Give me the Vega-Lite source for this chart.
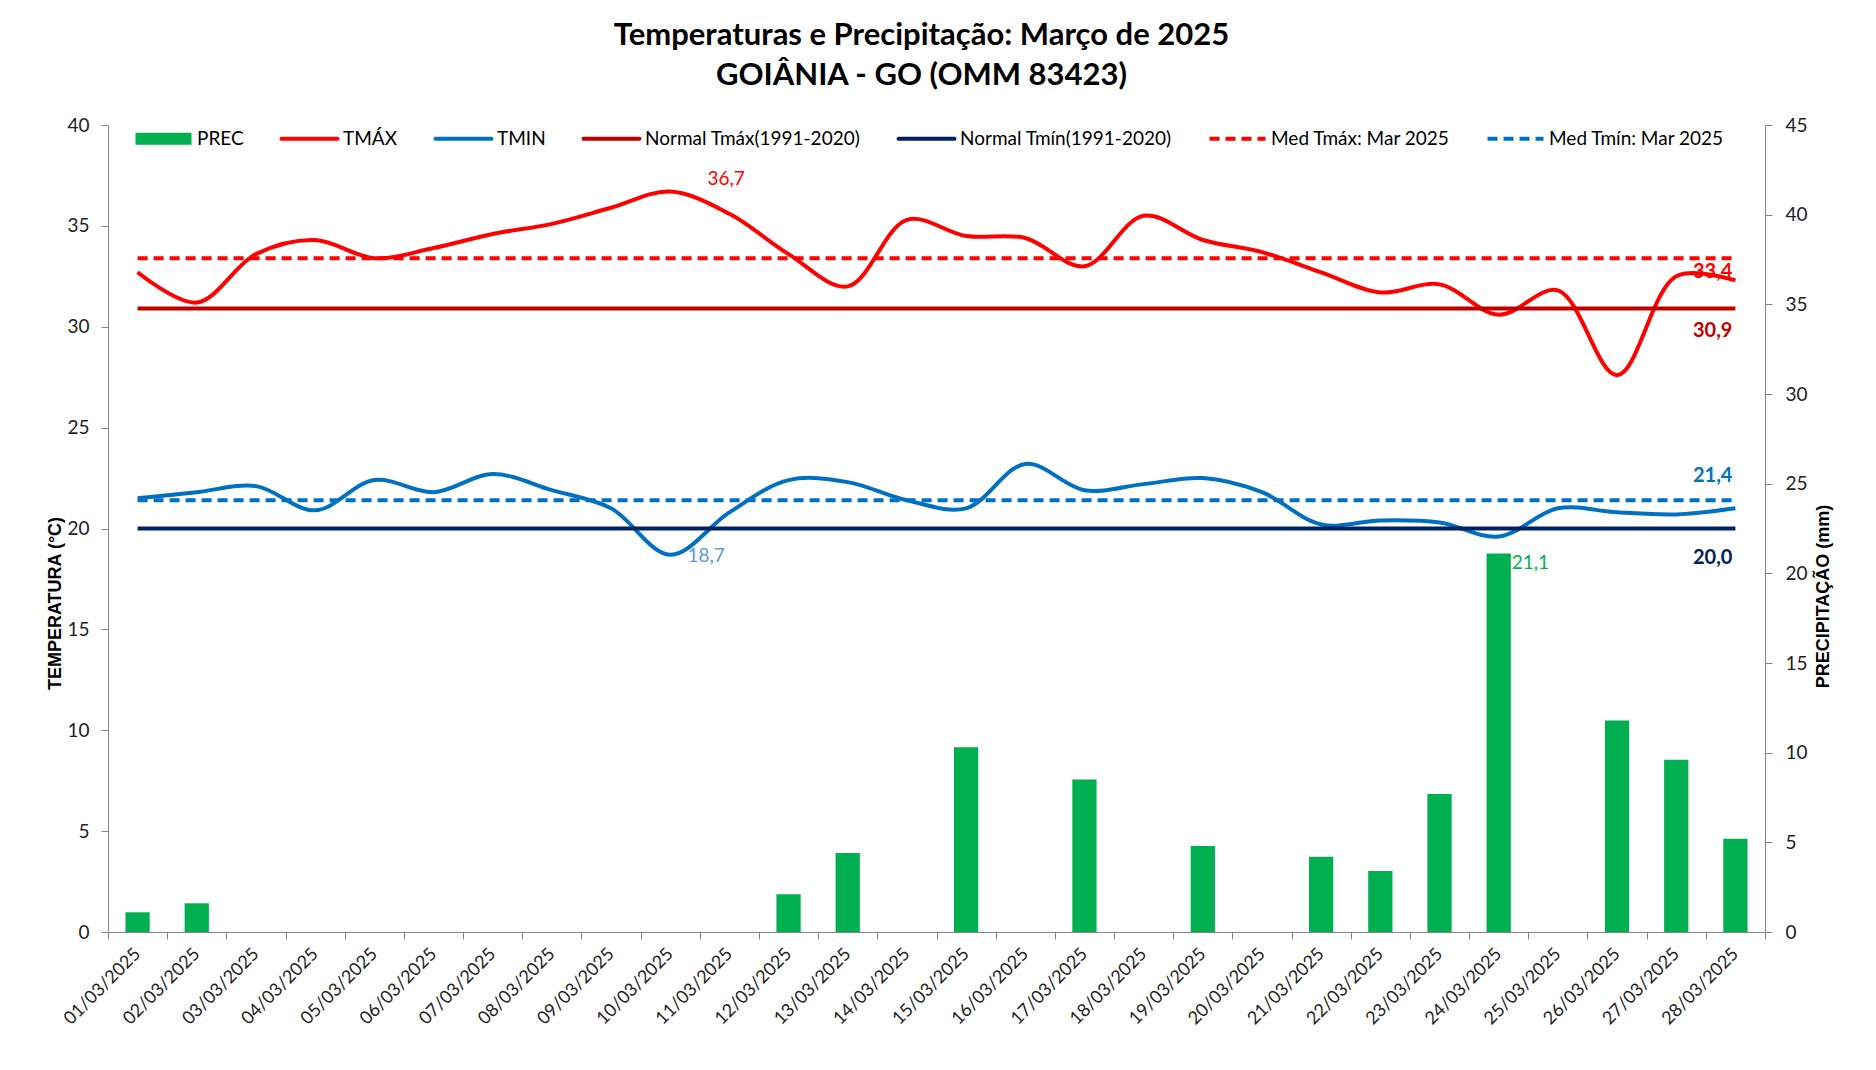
{
  "$schema": "https://vega.github.io/schema/vega-lite/v6.json",
  "width": 1657,
  "height": 807,
  "autosize": {"type": "none"},
  "padding": {"left": 108, "top": 125, "right": 111, "bottom": 138},
  "background": "white",
  "title": {
    "text": ["Temperaturas e Precipitação: Março de 2025", "GOIÂNIA - GO (OMM 83423)"],
    "font": "Lato",
    "fontSize": 31,
    "fontWeight": "bold",
    "color": "black",
    "anchor": "middle",
    "dx": -15,
    "offset": 24,
    "lineHeight": 40
  },
  "config": {
    "view": {"stroke": null},
    "locale": {"number": {"decimal": ",", "thousands": ".", "grouping": [3], "currency": ["R$ ", ""]}},
    "axis": {
      "grid": false,
      "domainColor": "#868686",
      "tickColor": "#868686",
      "tickSize": 7,
      "labelFont": "Lato",
      "labelFontSize": 19,
      "labelColor": "#222222",
      "titleFont": "Liberation Sans",
      "titleFontSize": 18,
      "titleFontWeight": "bold",
      "titleColor": "black"
    }
  },
  "datasets": {
    "diario": [
      {"data": "01/03/2025", "prec": 1.1},
      {"data": "02/03/2025", "prec": 1.6},
      {"data": "03/03/2025", "prec": 0},
      {"data": "04/03/2025", "prec": 0},
      {"data": "05/03/2025", "prec": 0},
      {"data": "06/03/2025", "prec": 0},
      {"data": "07/03/2025", "prec": 0},
      {"data": "08/03/2025", "prec": 0},
      {"data": "09/03/2025", "prec": 0},
      {"data": "10/03/2025", "prec": 0},
      {"data": "11/03/2025", "prec": 0},
      {"data": "12/03/2025", "prec": 2.1},
      {"data": "13/03/2025", "prec": 4.4},
      {"data": "14/03/2025", "prec": 0},
      {"data": "15/03/2025", "prec": 10.3},
      {"data": "16/03/2025", "prec": 0},
      {"data": "17/03/2025", "prec": 8.5},
      {"data": "18/03/2025", "prec": 0},
      {"data": "19/03/2025", "prec": 4.8},
      {"data": "20/03/2025", "prec": 0},
      {"data": "21/03/2025", "prec": 4.2},
      {"data": "22/03/2025", "prec": 3.4},
      {"data": "23/03/2025", "prec": 7.7},
      {"data": "24/03/2025", "prec": 21.1},
      {"data": "25/03/2025", "prec": 0},
      {"data": "26/03/2025", "prec": 11.8},
      {"data": "27/03/2025", "prec": 9.6},
      {"data": "28/03/2025", "prec": 5.2}
    ],
    "series": [
      {"data": "01/03/2025", "serie": "TMÁX", "valor": 32.7},
      {"data": "02/03/2025", "serie": "TMÁX", "valor": 31.2},
      {"data": "03/03/2025", "serie": "TMÁX", "valor": 33.6},
      {"data": "04/03/2025", "serie": "TMÁX", "valor": 34.3},
      {"data": "05/03/2025", "serie": "TMÁX", "valor": 33.4},
      {"data": "06/03/2025", "serie": "TMÁX", "valor": 33.9},
      {"data": "07/03/2025", "serie": "TMÁX", "valor": 34.6},
      {"data": "08/03/2025", "serie": "TMÁX", "valor": 35.1},
      {"data": "09/03/2025", "serie": "TMÁX", "valor": 35.9},
      {"data": "10/03/2025", "serie": "TMÁX", "valor": 36.7},
      {"data": "11/03/2025", "serie": "TMÁX", "valor": 35.6},
      {"data": "12/03/2025", "serie": "TMÁX", "valor": 33.6},
      {"data": "13/03/2025", "serie": "TMÁX", "valor": 32.0},
      {"data": "14/03/2025", "serie": "TMÁX", "valor": 35.3},
      {"data": "15/03/2025", "serie": "TMÁX", "valor": 34.5},
      {"data": "16/03/2025", "serie": "TMÁX", "valor": 34.4},
      {"data": "17/03/2025", "serie": "TMÁX", "valor": 33.0},
      {"data": "18/03/2025", "serie": "TMÁX", "valor": 35.5},
      {"data": "19/03/2025", "serie": "TMÁX", "valor": 34.3},
      {"data": "20/03/2025", "serie": "TMÁX", "valor": 33.7},
      {"data": "21/03/2025", "serie": "TMÁX", "valor": 32.7},
      {"data": "22/03/2025", "serie": "TMÁX", "valor": 31.7},
      {"data": "23/03/2025", "serie": "TMÁX", "valor": 32.1},
      {"data": "24/03/2025", "serie": "TMÁX", "valor": 30.6},
      {"data": "25/03/2025", "serie": "TMÁX", "valor": 31.8},
      {"data": "26/03/2025", "serie": "TMÁX", "valor": 27.6},
      {"data": "27/03/2025", "serie": "TMÁX", "valor": 32.5},
      {"data": "28/03/2025", "serie": "TMÁX", "valor": 32.3},
      {"data": "01/03/2025", "serie": "TMIN", "valor": 21.5},
      {"data": "02/03/2025", "serie": "TMIN", "valor": 21.8},
      {"data": "03/03/2025", "serie": "TMIN", "valor": 22.1},
      {"data": "04/03/2025", "serie": "TMIN", "valor": 20.9},
      {"data": "05/03/2025", "serie": "TMIN", "valor": 22.4},
      {"data": "06/03/2025", "serie": "TMIN", "valor": 21.8},
      {"data": "07/03/2025", "serie": "TMIN", "valor": 22.7},
      {"data": "08/03/2025", "serie": "TMIN", "valor": 21.9},
      {"data": "09/03/2025", "serie": "TMIN", "valor": 21.0},
      {"data": "10/03/2025", "serie": "TMIN", "valor": 18.7},
      {"data": "11/03/2025", "serie": "TMIN", "valor": 20.8},
      {"data": "12/03/2025", "serie": "TMIN", "valor": 22.4},
      {"data": "13/03/2025", "serie": "TMIN", "valor": 22.3},
      {"data": "14/03/2025", "serie": "TMIN", "valor": 21.4},
      {"data": "15/03/2025", "serie": "TMIN", "valor": 21.0},
      {"data": "16/03/2025", "serie": "TMIN", "valor": 23.2},
      {"data": "17/03/2025", "serie": "TMIN", "valor": 21.9},
      {"data": "18/03/2025", "serie": "TMIN", "valor": 22.2},
      {"data": "19/03/2025", "serie": "TMIN", "valor": 22.5},
      {"data": "20/03/2025", "serie": "TMIN", "valor": 21.8},
      {"data": "21/03/2025", "serie": "TMIN", "valor": 20.2},
      {"data": "22/03/2025", "serie": "TMIN", "valor": 20.4},
      {"data": "23/03/2025", "serie": "TMIN", "valor": 20.3},
      {"data": "24/03/2025", "serie": "TMIN", "valor": 19.6},
      {"data": "25/03/2025", "serie": "TMIN", "valor": 21.0},
      {"data": "26/03/2025", "serie": "TMIN", "valor": 20.8},
      {"data": "27/03/2025", "serie": "TMIN", "valor": 20.7},
      {"data": "28/03/2025", "serie": "TMIN", "valor": 21.0},
      {"data": "01/03/2025", "serie": "Normal Tmáx(1991-2020)", "valor": 30.9},
      {"data": "28/03/2025", "serie": "Normal Tmáx(1991-2020)", "valor": 30.9},
      {"data": "01/03/2025", "serie": "Normal Tmín(1991-2020)", "valor": 20.0},
      {"data": "28/03/2025", "serie": "Normal Tmín(1991-2020)", "valor": 20.0},
      {"data": "01/03/2025", "serie": "Med Tmáx: Mar 2025", "valor": 33.4},
      {"data": "28/03/2025", "serie": "Med Tmáx: Mar 2025", "valor": 33.4},
      {"data": "01/03/2025", "serie": "Med Tmín: Mar 2025", "valor": 21.4},
      {"data": "28/03/2025", "serie": "Med Tmín: Mar 2025", "valor": 21.4}
    ]
  },
  "encoding": {
    "x": {
      "field": "data",
      "type": "ordinal",
      "scale": {"paddingInner": 0, "paddingOuter": 0},
      "axis": {
        "title": null,
        "labelAngle": -45,
        "labelAlign": "right",
        "labelBaseline": "middle",
        "labelPadding": 12,
        "labelFontSize": 18,
        "tickBand": "extent"
      }
    }
  },
  "layer": [
    {
      "data": {"name": "diario"},
      "encoding": {
        "y": {
          "field": "prec",
          "type": "quantitative",
          "scale": {"domain": [0, 45]},
          "axis": {
            "orient": "right",
            "values": [0, 5, 10, 15, 20, 25, 30, 35, 40, 45],
            "labelPadding": 13,
            "title": "PRECIPITAÇÃO  (mm)",
            "titleAngle": 270,
            "titleBaseline": "middle",
            "titleX": 58,
            "titleY": 471
          }
        }
      },
      "layer": [
        {
          "mark": {"type": "bar", "width": {"band": 0.41}},
          "encoding": {
            "color": {
              "datum": "PREC",
              "scale": {
                "domain": ["PREC", "TMÁX", "TMIN", "Normal Tmáx(1991-2020)", "Normal Tmín(1991-2020)", "Med Tmáx: Mar 2025", "Med Tmín: Mar 2025"],
                "range": ["#00B050", "#FF0000", "#0070C0", "#C00000", "#002060", "#FF0000", "#0070C0"]
              },
              "legend": {
                "title": null,
                "orient": "none",
                "legendX": 46,
                "legendY": 4,
                "direction": "horizontal",
                "symbolType": "stroke",
                "symbolSize": 3136,
                "symbolStrokeWidth": 4,
                "labelFont": "Lato",
                "labelFontSize": 19,
                "labelColor": "black",
                "labelOffset": 24,
                "labelLimit": 400,
                "columnPadding": 29,
                "encode": {
                  "symbols": {
                    "update": {
                      "shape": {"signal": "datum.value === 'PREC' ? 'M-1,-0.21H1V0.21H-1Z' : 'stroke'"},
                      "fill": {"signal": "datum.value === 'PREC' ? '#00B050' : 'transparent'"},
                      "stroke": {"signal": "scale('color', datum.value)"},
                      "strokeDash": {"signal": "indexof(datum.value, 'Med') === 0 ? [10, 6] : [1, 0]"},
                      "strokeWidth": {"signal": "datum.value === 'PREC' ? 0 : 4"},
                      "strokeCap": {"signal": "indexof(datum.value, 'Med') === 0 ? 'butt' : 'round'"}
                    }
                  }
                }
              }
            }
          }
        },
        {
          "transform": [{"filter": "datum.data === '24/03/2025'"}],
          "mark": {"type": "text", "align": "left", "baseline": "middle", "dx": 13, "dy": 9, "color": "#00B050", "font": "Lato", "fontSize": 19},
          "encoding": {"text": {"field": "prec", "type": "quantitative", "format": ".1f"}}
        }
      ]
    },
    {
      "data": {"name": "series"},
      "encoding": {
        "y": {
          "field": "valor",
          "type": "quantitative",
          "scale": {"domain": [0, 40]},
          "axis": {
            "values": [0, 5, 10, 15, 20, 25, 30, 35, 40],
            "labelPadding": 12,
            "title": "TEMPERATURA  (°C)",
            "titleBaseline": "middle",
            "titleX": -53,
            "titleY": 478
          }
        }
      },
      "layer": [
        {
          "transform": [{"filter": "indexof(datum.serie, 'Med') !== 0"}],
          "mark": {"type": "line", "interpolate": "catmull-rom", "strokeWidth": 4},
          "encoding": {
            "color": {
              "field": "serie",
              "type": "nominal",
              "scale": {
                "domain": ["PREC", "TMÁX", "TMIN", "Normal Tmáx(1991-2020)", "Normal Tmín(1991-2020)", "Med Tmáx: Mar 2025", "Med Tmín: Mar 2025"],
                "range": ["#00B050", "#FF0000", "#0070C0", "#C00000", "#002060", "#FF0000", "#0070C0"]
              },
              "legend": {
                "title": null,
                "orient": "none",
                "legendX": 46,
                "legendY": 4,
                "direction": "horizontal",
                "symbolType": "stroke",
                "symbolSize": 3136,
                "symbolStrokeWidth": 4,
                "labelFont": "Lato",
                "labelFontSize": 19,
                "labelColor": "black",
                "labelOffset": 24,
                "labelLimit": 400,
                "columnPadding": 29,
                "encode": {
                  "symbols": {
                    "update": {
                      "shape": {"signal": "datum.value === 'PREC' ? 'M-1,-0.21H1V0.21H-1Z' : 'stroke'"},
                      "fill": {"signal": "datum.value === 'PREC' ? '#00B050' : 'transparent'"},
                      "stroke": {"signal": "scale('color', datum.value)"},
                      "strokeDash": {"signal": "indexof(datum.value, 'Med') === 0 ? [10, 6] : [1, 0]"},
                      "strokeWidth": {"signal": "datum.value === 'PREC' ? 0 : 4"},
                      "strokeCap": {"signal": "indexof(datum.value, 'Med') === 0 ? 'butt' : 'round'"}
                    }
                  }
                }
              }
            }
          }
        },
        {
          "transform": [{"filter": "indexof(datum.serie, 'Med') === 0"}],
          "mark": {"type": "line", "strokeWidth": 4, "strokeDash": [10, 6]},
          "encoding": {"color": {"field": "serie", "type": "nominal"}}
        },
        {
          "transform": [{"filter": "datum.serie === 'TMÁX' && datum.data === '10/03/2025'"}],
          "mark": {"type": "text", "align": "center", "baseline": "middle", "dx": 56, "dy": -13, "color": "#FF0000", "font": "Lato", "fontSize": 19},
          "encoding": {"text": {"field": "valor", "type": "quantitative", "format": ".1f"}}
        },
        {
          "transform": [{"filter": "datum.serie === 'TMIN' && datum.data === '10/03/2025'"}],
          "mark": {"type": "text", "align": "center", "baseline": "middle", "dx": 36, "dy": 1, "color": "#5B9BD5", "font": "Lato", "fontSize": 19},
          "encoding": {"text": {"field": "valor", "type": "quantitative", "format": ".1f"}}
        },
        {
          "transform": [{"filter": "datum.serie === 'Med Tmáx: Mar 2025' && datum.data === '28/03/2025'"}],
          "mark": {"type": "text", "align": "right", "baseline": "middle", "dx": -3, "dy": 14, "color": "#FF0000", "font": "Lato", "fontSize": 20, "fontWeight": "bold"},
          "encoding": {"text": {"field": "valor", "type": "quantitative", "format": ".1f"}}
        },
        {
          "transform": [{"filter": "datum.serie === 'Normal Tmáx(1991-2020)' && datum.data === '28/03/2025'"}],
          "mark": {"type": "text", "align": "right", "baseline": "middle", "dx": -3, "dy": 22, "color": "#C00000", "font": "Lato", "fontSize": 20, "fontWeight": "bold"},
          "encoding": {"text": {"field": "valor", "type": "quantitative", "format": ".1f"}}
        },
        {
          "transform": [{"filter": "datum.serie === 'Med Tmín: Mar 2025' && datum.data === '28/03/2025'"}],
          "mark": {"type": "text", "align": "right", "baseline": "middle", "dx": -3, "dy": -24, "color": "#0070C0", "font": "Lato", "fontSize": 20, "fontWeight": "bold"},
          "encoding": {"text": {"field": "valor", "type": "quantitative", "format": ".1f"}}
        },
        {
          "transform": [{"filter": "datum.serie === 'Normal Tmín(1991-2020)' && datum.data === '28/03/2025'"}],
          "mark": {"type": "text", "align": "right", "baseline": "middle", "dx": -3, "dy": 29, "color": "#002060", "font": "Lato", "fontSize": 20, "fontWeight": "bold"},
          "encoding": {"text": {"field": "valor", "type": "quantitative", "format": ".1f"}}
        }
      ]
    }
  ],
  "resolve": {"scale": {"y": "independent"}}
}
